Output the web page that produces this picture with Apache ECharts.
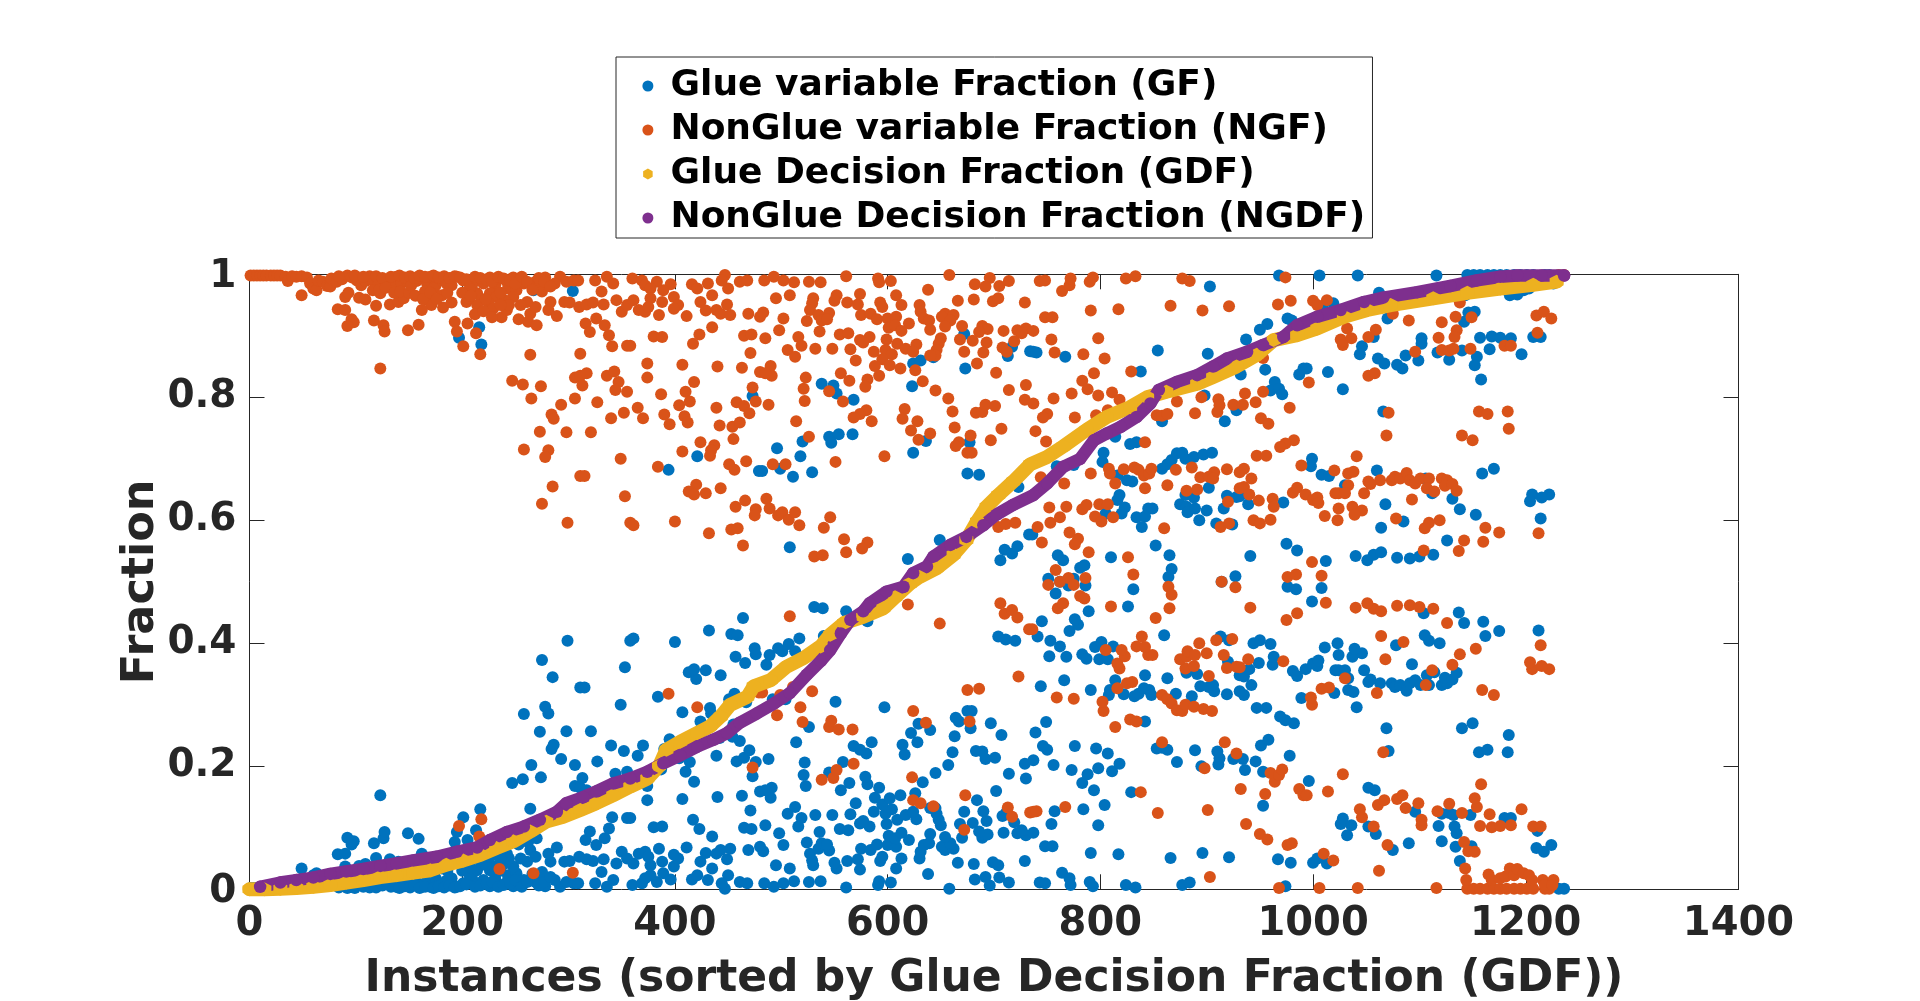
<!DOCTYPE html>
<html>
<head>
<meta charset="utf-8">
<title>Glue and NonGlue fractions per instance</title>
<script src="https://cdn.jsdelivr.net/npm/echarts@6/dist/echarts.min.js"></script>
<style>
html,body{margin:0;padding:0;background:#fff}
#chart{width:1920px;height:1001px}
</style>
</head>
<body>
<div id="chart"></div>
<script>
// Every row: [instance, glue variable fraction, nonglue variable fraction]
const instancesUpTo150 = [
[1,.002,.998],[4,.002,.998],[7,.002,.998],[10,.002,.998],[13,.002,.998],[16,.002,.998],[20,.002,.998],[23,.002,.998],[26,.002,.998],[29,.002,.998],
[34,.004,.996],[36,.011,.989],[40,.003,.997],[44,.004,.996],[49,.003,.997],[54,.005,.995],[57,.015,.985],[60,.023,.977],[63,.026,.974],[65,.01,.99],
[69,.012,.988],[73,.019,.981],[76,.02,.98],[77,.007,.993],[82,.012,.988],[87,.008,.992],[92,.002,.998],[96,.005,.995],[101,.01,.99],[105,.018,.982],
[109,.011,.989],[113,.003,.997],[116,.01,.99],[121,.018,.982],[129,.01,.99],[138,.004,.996],[135,.016,.984],[143,.014,.986],[148,.01,.99],
[49,.034,.966],[90,.037,.963],[93,.03,.97],[103,.038,.962],[109,.041,.959],[116,.026,.974],[123,.031,.969],[119,.051,.949],[132,.049,.951],[140,.045,.955],[145,.039,.961],
[83,.057,.943],[90,.058,.942],[96,.073,.927],[98,.078,.922],[92,.084,.916],[117,.075,.925],[126,.083,.917],[127,.093,.907],[149,.091,.909],[123,.153,.847],
[84,.003,.997],[99,.002,.998],[107,.004,.996],[119,.003,.997],[125,.006,.994],[133,.004,.996],[141,.002,.998],[146,.005,.995],
[122,.025,.975],[128,.022,.978],[136,.03,.97],[142,.028,.972],[150,.03,.97]
];
const instancesUpTo360 = [
[152,.018,.982],[157,.011,.989],[162,.007,.993],[167,.015,.985],[170,.004,.996],[175,.018,.982],[179,.01,.99],[185,.014,.986],[195,.004,.996],[190,.018,.982],
[201,.01,.99],[209,.019,.981],[214,.01,.99],[220,.015,.985],[226,.005,.995],[231,.018,.982],[236,.007,.993],[242,.012,.988],[248,.005,.995],[254,.007,.993],
[258,.015,.985],[243,.023,.977],[251,.026,.974],[248,.037,.963],[226,.031,.969],[232,.037,.963],[240,.042,.958],[214,.031,.969],[218,.041,.959],[225,.047,.953],
[207,.023,.977],[204,.045,.955],[214,.05,.95],[206,.039,.961],[165,.028,.972],[173,.023,.977],[167,.042,.958],[171,.05,.95],[181,.034,.966],[182,.054,.946],
[190,.046,.954],[162,.058,.942],[159,.082,.918],[193,.077,.923],[195,.093,.907],[205,.08,.92],[213,.096,.904],[201,.117,.883],[217,.13,.87],[229,.056,.944],
[237,.07,.93],[242,.058,.942],[253,.073,.927],[262,.077,.923],[264,.064,.936],[270,.083,.917],[269,.053,.947],[261,.045,.955],[283,.045,.955],[281,.058,.942],
[289,.068,.932],[275,.028,.972],[278,.005,.995],[269,.012,.988],[273,.018,.982],[292,.004,.996],[287,.015,.985],[298,.012,.988],[305,.01,.99],[309,.01,.99],
[296,.045,.955],[301,.046,.954],[310,.053,.947],[317,.049,.951],[323,.046,.954],[333,.049,.951],[325,.01,.99],[336,.004,.996],[342,.015,.985],[331,.028,.972],
[345,.042,.958],[350,.061,.939],[355,.05,.95],[316,.08,.92],[326,.072,.928],[320,.094,.906],[334,.083,.917],[338,.099,.901],[341,.117,.883],[355,.116,.884],
[264,.131,.869],[311,.129,.871],[247,.173,.827],[257,.179,.821],[274,.182,.818],[265,.202,.798],[306,.168,.832],[311,.165,.835],[317,.161,.839],[313,.181,.819],
[306,.202,.798],[336,.165,.835],[343,.158,.842],[347,.175,.825],[344,.188,.812],[355,.191,.809],[293,.212,.788],[327,.208,.792],[284,.228,.772],[286,.235,.765],
[352,.225,.775],[340,.234,.766],[273,.256,.744],[298,.257,.743],[321,.257,.743],[258,.285,.715],[281,.286,.714],[278,.297,.703],[349,.3,.7],[311,.328,.672],
[315,.328,.672],[285,.345,.655],[275,.373,.627],[353,.361,.639],[299,.404,.596],[358,.404,.596],
[267,.974,.026],[304,.973,.027],[216,.914,.086],[197,.897,.103],[218,.886,.114],[235,.967,.033],
[151,.003,.997],[155,.006,.994],[160,.002,.998],[165,.004,.996],[173,.002,.998],[178,.005,.995],[183,.003,.997],[188,.006,.994],[193,.003,.997],[198,.005,.995],
[204,.008,.992],[212,.004,.996],[217,.006,.994],[223,.009,.991],[228,.012,.988],[234,.004,.996],[239,.007,.993],[245,.01,.99],[250,.015,.985],[256,.004,.996],
[261,.012,.988],[266,.025,.975],[272,.006,.994],[277,.012,.988],[283,.02,.98],[156,.035,.965],[163,.04,.96],[170,.03,.97],[176,.04,.96],[186,.03,.97],
[200,.03,.97],[208,.035,.965],[222,.04,.96],[236,.03,.97],[244,.05,.95],[255,.05,.95],[212,.065,.935],[220,.06,.94],[228,.07,.93],[236,.05,.95]
];
const instancesUpTo560 = [
[360,.007,.993],[369,.01,.99],[372,.018,.982],[383,.012,.988],[396,.016,.984],[377,.023,.977],[389,.026,.974],[361,.042,.958],[377,.039,.961],[388,.045,.955],
[399,.037,.963],[403,.05,.95],[399,.056,.944],[366,.058,.942],[372,.061,.939],[375,.053,.947],[385,.066,.934],[411,.068,.932],[416,.016,.984],[421,.023,.977],
[431,.015,.985],[435,.034,.966],[424,.045,.955],[429,.059,.941],[439,.058,.942],[443,.064,.936],[449,.049,.951],[452,.066,.934],[450,.023,.977],[447,.001,.999],
[444,.01,.99],[461,.012,.988],[468,.01,.99],[484,.01,.99],[493,.004,.996],[502,.01,.99],[512,.013,.987],[526,.012,.988],[537,.013,.987],[495,.039,.961],
[508,.034,.966],[530,.039,.961],[529,.047,.953],[527,.058,.942],[552,.034,.966],[550,.043,.957],[469,.064,.936],[480,.069,.931],[483,.062,.938],[502,.072,.928],
[524,.076,.924],[535,.066,.934],[538,.075,.925],[545,.063,.937],[543,.073,.927],[435,.086,.914],[498,.091,.909],[536,.093,.907],[380,.101,.899],[388,.102,.898],
[423,.098,.902],[417,.113,.887],[465,.1,.9],[472,.098,.902],[485,.104,.896],[516,.102,.898],[519,.116,.884],[555,.098,.902],[358,.116,.884],[471,.128,.872],
[506,.123,.877],[513,.134,.866],[532,.121,.879],[548,.121,.879],[374,.145,.855],[407,.147,.853],[440,.15,.85],[463,.152,.848],[480,.159,.841],[490,.149,.851],
[491,.165,.835],[485,.161,.839],[374,.168,.832],[418,.175,.825],[523,.168,.832],[556,.161,.839],[473,.184,.816],[521,.186,.814],[545,.19,.81],[387,.195,.805],
[410,.191,.809],[414,.207,.793],[404,.213,.787],[365,.217,.783],[439,.217,.783],[458,.208,.792],[465,.214,.786],[470,.226,.774],[476,.207,.793],[488,.212,.788],
[522,.206,.794],[558,.207,.793],[370,.234,.766],[390,.228,.772],[395,.244,.756],[409,.231,.769],[412,.241,.759],[442,.246,.754],[454,.248,.752],[461,.241,.759],
[514,.239,.761],[455,.268,.732],[526,.264,.736],[424,.273,.727],[437,.278,.722],[434,.286,.714],[433,.295,.705],[407,.288,.712],[384,.313,.687],[451,.309,.691],
[456,.318,.682],[467,.304,.696],[492,.309,.691],[504,.309,.691],[551,.305,.695],[420,.342,.658],[413,.353,.647],[418,.358,.642],[429,.356,.644],[443,.348,.652],
[466,.368,.632],[457,.378,.622],[476,.382,.618],[475,.392,.608],[486,.365,.635],[489,.381,.619],[497,.392,.608],[501,.387,.613],[507,.399,.601],[513,.387,.613],
[517,.408,.592],[546,.395,.605],[540,.412,.588],[400,.402,.598],[361,.408,.592],[432,.421,.579],[453,.415,.585],[459,.413,.587],[559,.431,.569],[464,.441,.559],
[531,.459,.541],[539,.457,.543],
[538,.822,.178],[549,.819,.181],[552,.806,.194],[473,.802,.198],[394,.682,.318],[421,.704,.296],[496,.717,.283],[520,.728,.272],[545,.736,.264],[554,.74,.26],
[547,.726,.274],[518,.704,.296],[499,.684,.316],[479,.68,.32],[482,.68,.32],[511,.671,.329],[529,.678,.322],[508,.556,.444]
];
const instancesUpTo735 = [
[561,.003,.997],[591,.007,.993],[592,.013,.987],[603,.011,.989],[658,.001,.999],[696,.006,.994],[682,.016,.984],[692,.02,.98],[705,.019,.981],[714,.011,.989],
[638,.025,.975],[562,.046,.954],[572,.049,.951],[574,.032,.968],[593,.046,.954],[595,.053,.947],[608,.034,.966],[613,.05,.95],[630,.05,.95],[631,.061,.939],
[634,.072,.928],[639,.075,.925],[666,.043,.957],[681,.041,.959],[699,.044,.956],[704,.039,.961],[729,.046,.954],[575,.066,.934],[584,.064,.936],[590,.073,.927],
[600,.072,.928],[608,.069,.931],[620,.08,.92],[654,.064,.936],[651,.069,.931],[662,.066,.934],[659,.075,.925],[654,.085,.915],[670,.084,.916],[689,.084,.916],
[694,.089,.911],[640,.09,.91],[601,.087,.913],[607,.083,.917],[613,.092,.908],[686,.094,.906],[709,.092,.908],[722,.091,.909],[730,.088,.912],[726,.096,.904],
[563,.096,.904],[574,.107,.893],[583,.102,.898],[577,.111,.889],[599,.106,.894],[609,.113,.887],[617,.121,.879],[627,.114,.886],[624,.126,.874],[650,.104,.896],
[648,.113,.887],[646,.123,.877],[645,.132,.868],[640,.132,.868],[668,.106,.894],[680,.108,.892],[693,.111,.889],[708,.119,.881],[719,.109,.891],[565,.122,.878],
[587,.126,.874],[598,.123,.877],[604,.13,.87],[672,.126,.874],[690,.127,.873],[712,.126,.874],[570,.14,.86],[595,.138,.862],[588,.149,.851],[602,.148,.852],
[612,.153,.847],[626,.156,.844],[684,.145,.855],[702,.16,.84],[564,.173,.827],[581,.171,.829],[579,.183,.817],[592,.165,.835],[633,.174,.826],[714,.188,.812],
[730,.18,.82],[645,.189,.811],[657,.202,.798],[729,.204,.796],[580,.221,.779],[574,.227,.773],[568,.233,.767],[616,.219,.781],[614,.235,.765],[661,.223,.777],
[683,.225,.775],[689,.224,.776],[692,.212,.788],[701,.214,.786],[585,.239,.761],[628,.239,.761],[663,.249,.751],[707,.251,.749],[622,.254,.746],[640,.259,.741],
[629,.269,.731],[678,.262,.738],[697,.27,.73],[667,.273,.727],[664,.279,.721],[675,.29,.71],[679,.29,.71],[597,.296,.704],[581,.436,.564],[576,.446,.554],
[561,.452,.548],[704,.411,.589],[711,.406,.594],[720,.404,.596],
[568,.796,.204],[567,.74,.26],[624,.71,.29],[636,.729,.271],[677,.727,.273],[675,.676,.324],[686,.674,.326],[623,.818,.182],[673,.847,.153],[624,.855,.145],
[631,.86,.14],[643,.865,.135],[672,.903,.097],[717,.882,.118],[713,.867,.133],[734,.875,.125],[649,.568,.432],[619,.537,.463],[710,.552,.448],[717,.546,.454],
[722,.558,.442],[706,.535,.465],[733,.577,.423],[723,.654,.346]
];
const instancesUpTo870 = [
[743,.011,.989],[748,.01,.99],[764,.027,.973],[771,.018,.982],[772,.007,.993],[790,.012,.988],[793,.005,.995],[824,.007,.993],[833,.003,.997],[866,.051,.949],
[791,.059,.941],[817,.057,.943],[748,.07,.93],[755,.07,.93],[737,.092,.908],[754,.106,.894],[798,.104,.896],[757,.127,.873],[784,.13,.87],[804,.137,.863],
[829,.158,.842],[794,.161,.839],[783,.173,.827],[788,.187,.813],[773,.194,.806],[756,.202,.798],[737,.21,.79],[798,.197,.803],[811,.192,.808],[818,.204,.796],
[807,.221,.779],[796,.229,.771],[776,.233,.767],[750,.227,.773],[746,.233,.767],[739,.255,.745],[749,.272,.728],[853,.229,.771],[858,.23,.77],[863,.227,.773],
[842,.273,.727],[744,.33,.67],[766,.34,.66],[791,.324,.676],[808,.316,.684],[809,.324,.676],[814,.34,.66],[822,.317,.683],[832,.314,.686],[836,.318,.682],
[841,.327,.673],[846,.324,.676],[848,.316,.684],[842,.348,.652],[863,.343,.657],[752,.379,.621],[768,.378,.622],[783,.382,.618],[787,.375,.625],[799,.374,.626],
[807,.374,.626],[795,.394,.606],[801,.402,.598],[812,.395,.605],[741,.411,.589],[753,.404,.596],[762,.395,.605],[860,.413,.587],[771,.42,.58],[779,.43,.57],
[776,.439,.561],[745,.436,.564],[789,.452,.548],[826,.46,.54],
[758,.481,.519],[770,.494,.506],[775,.505,.495],[751,.505,.495],[786,.494,.506],[762,.5,.5],[781,.523,.477],[785,.527,.473],[831,.488,.512],[864,.508,.492],[867,.521,.479],
[737,.874,.126],[740,.873,.127],[767,.866,.134],[854,.876,.124],[838,.842,.158],[858,.761,.239],[828,.724,.276],[834,.727,.273],[803,.71,.29],[802,.695,.305],
[759,.688,.312],[775,.69,.31],[814,.736,.264],[816,.673,.327],[825,.665,.335],[830,.663,.337],[858,.684,.316],[863,.691,.309],[867,.698,.302],[818,.641,.359],
[816,.633,.367],[823,.621,.379],[820,.611,.389],[845,.619,.381],[849,.619,.381],[805,.611,.389],[834,.605,.395],[842,.606,.394],[839,.589,.411],[736,.577,.423],
[852,.559,.441],[760,.543,.457],[765,.535,.465],[810,.54,.46],[865,.543,.457]
];
const instancesUpTo1020 = [
[877,.007,.993],[884,.011,.989],[974,.005,.995],[896,.059,.941],[921,.052,.948],[967,.049,.951],[979,.043,.957],[1000,.043,.957],[1004,.05,.95],[1013,.042,.958],
[872,.207,.793],[895,.2,.8],[911,.203,.797],[912,.213,.787],[910,.224,.776],[889,.226,.774],[925,.212,.788],[934,.212,.788],[936,.194,.806],[946,.208,.792],
[953,.191,.809],[978,.217,.783],[951,.234,.766],[958,.243,.757],[996,.176,.824],[953,.136,.864],[982,.27,.73],[974,.275,.725],[969,.281,.719],[947,.295,.705],
[956,.295,.705],[989,.311,.689],[871,.318,.682],[886,.314,.686],[919,.317,.683],[935,.316,.684],[931,.322,.678],[907,.322,.678],[894,.33,.67],[902,.329,.671],
[906,.332,.668],[942,.332,.668],[881,.352,.648],[891,.35,.65],[931,.348,.652],[935,.346,.654],[940,.358,.642],[949,.368,.632],[962,.365,.635],[963,.378,.622],
[981,.355,.645],[985,.347,.653],[993,.358,.642],[1000,.367,.633],[1004,.363,.637],[1005,.372,.628],[920,.37,.63],[913,.411,.589],[921,.405,.595],[944,.4,.6],
[950,.405,.595],[960,.399,.601],[1011,.393,.607],[999,.468,.532],
[927,.509,.491],[914,.5,.5],[976,.492,.508],[984,.488,.512],[1008,.49,.51],
[903,.98,.02],[968,.998,.002],[1006,.998,.002],[901,.871,.129],[950,.91,.09],[957,.919,.081],[976,.928,.072],[980,.925,.075],[1010,.942,.058],[937,.894,.106],
[932,.837,.163],[955,.845,.155],[987,.837,.163],[991,.847,.153],[994,.847,.153],[1014,.841,.159],[964,.825,.175],[960,.811,.189],[968,.814,.186],[971,.805,.195],
[898,.803,.197],[928,.779,.221],[917,.761,.239],[872,.709,.291],[877,.71,.29],[880,.7,.3],[888,.703,.297],[897,.707,.293],[905,.71,.29],[999,.7,.3],
[998,.688,.312],[1008,.674,.326],[1015,.672,.328],[902,.653,.347],[880,.641,.359],[888,.637,.363],[875,.626,.374],[881,.622,.378],[882,.613,.387],[889,.619,.381],
[900,.616,.384],[916,.619,.381],[919,.64,.36],[928,.638,.362],[931,.639,.361],[939,.626,.374],[972,.629,.371],[893,.6,.4],[909,.595,.405],[924,.593,.407],
[975,.562,.438],[985,.551,.449],[941,.542,.458],[1012,.534,.466],[1019,.953,.047]
];
const instancesAfter1020 = [
[1138,.046,.954],[1134,.069,.931],[1121,.078,.922],[1149,.07,.93],[1090,.075,.925],[1075,.064,.936],[1032,.088,.912],[1026,.106,.894],[1036,.104,.896],[1028,.115,.885],
[1052,.102,.898],[1059,.09,.91],[1135,.091,.909],[1133,.102,.898],[1118,.103,.897],[1096,.126,.874],[1121,.123,.877],[1128,.124,.876],[1132,.121,.879],[1148,.121,.879],
[1180,.116,.884],[1186,.116,.884],[1210,.067,.933],[1217,.061,.939],[1224,.072,.928],[1211,.095,.905],[1052,.165,.835],[1058,.161,.839],[1071,.225,.775],[1156,.223,.777],
[1164,.227,.773],[1183,.223,.777],[1184,.251,.749],[1069,.262,.738],[1140,.262,.738],[1150,.27,.73],[1041,.296,.704],[1020,.319,.681],[1033,.324,.676],[1038,.321,.679],
[1052,.337,.663],[1063,.335,.665],[1054,.341,.659],[1074,.335,.665],[1077,.329,.671],[1082,.332,.668],[1088,.323,.677],[1091,.335,.665],[1096,.34,.66],[1101,.332,.668],
[1109,.332,.668],[1107,.348,.652],[1114,.353,.647],[1121,.332,.668],[1126,.335,.665],[1124,.344,.656],[1131,.341,.659],[1135,.352,.648],[1021,.356,.644],[1024,.356,.644],
[1033,.343,.657],[1030,.356,.644],[1048,.356,.644],[1093,.366,.634],[1024,.381,.619],[1037,.378,.622],[1046,.384,.616],[1039,.391,.609],[1023,.4,.6],[1078,.397,.603],
[1109,.404,.596],[1105,.413,.587],[1119,.4,.6],[1162,.412,.588],[1175,.42,.58],[1212,.421,.579],[1142,.433,.567],[1160,.435,.565],[1137,.45,.55],[1104,.449,.551],
[1042,.998,.002],[1116,.998,.002],[1062,.97,.03],[1070,.928,.072],[1057,.898,.102],[1142,.923,.077],[1146,.938,.062],[1152,.939,.061],[1157,.897,.103],[1168,.899,.101],
[1176,.897,.103],[1186,.896,.104],[1207,.898,.102],[1214,.898,.102],[1166,.878,.122],[1196,.87,.13],[1102,.896,.104],[1102,.887,.113],[1046,.883,.117],[1044,.87,.13],
[1061,.863,.137],[1067,.855,.145],[1079,.853,.147],[1084,.847,.153],[1087,.868,.132],[1099,.86,.14],[1117,.873,.127],[1128,.861,.139],[1140,.876,.124],[1154,.866,.134],
[1152,.852,.148],[1158,.829,.171],[1028,.813,.187],[1066,.777,.223],[1060,.681,.319],[1030,.657,.343],[1106,.668,.332],[1112,.644,.356],[1131,.635,.365],[1068,.626,.374],
[1138,.618,.382],[1153,.609,.391],[1159,.676,.324],[1170,.684,.316],[1206,.642,.358],[1222,.642,.358],[1215,.637,.363],[1204,.631,.369],[1214,.603,.397],[1064,.588,.412],
[1085,.598,.402],[1126,.567,.433],[1040,.542,.458],[1057,.544,.456],[1064,.548,.452],[1079,.539,.461],[1091,.538,.462],[1100,.541,.459],[1113,.544,.456],[1051,.535,.465],
[1145,.999,.001],[1151,.999,.001],[1157,.999,.001],[1164,.999,.001],[1170,.999,.001],[1176,.999,.001],[1182,.999,.001],[1189,.999,.001],[1195,.999,.001],[1201,.999,.001],
[1207,.999,.001],[1218,.999,.001],[1222,.999,.001],[1143,.966,.034],[1144,.985,.015],[1165,.976,.024],[1168,.985,.015],[1176,.982,.018],[1181,.979,.021],[1185,.966,.034],
[1189,.977,.023],[1192,.967,.033],[1198,.974,.026],[1203,.977,.023],[1206,.985,.015],[1216,.985,.015],[1218,.993,.007],[1226,.985,.015],[1225,.993,.007],
[1231,.001,.999],[1236,.001,.999]
];

// Decision fractions, as [instance, fraction], along the sorted instance order
const gluePoints = [
[0,0],[14,0],[29,.001],[44,.002],[60,.004],[76,.007],[91,.011],[107,.015],[123,.02],[138,.023],[154,.027],[170,.031],[185,.04],[201,.047],[217,.056],[232,.067],
[248,.078],[264,.094],[279,.11],[295,.118],[311,.129],[326,.14],[342,.153],[358,.167],[374,.18],[385,.2],[392,.227],[405,.24],[421,.254],[433,.265],[443,.281],
[452,.3],[468,.313],[474,.33],[490,.34],[505,.362],[521,.376],[537,.395],[546,.414],[559,.433],[577,.443],[596,.457],[607,.475],[621,.497],[630,.508],[646,.522],
[662,.544],[674,.568],[684,.598],[693,.622],[704,.641],[718,.663],[734,.691],[750,.703],[765,.72],[787,.747],[806,.768],[828,.784],[844,.8],[862,.809],[891,.822],
[906,.833],[928,.85],[947,.869],[963,.893],[985,.901],[1004,.912],[1029,.931],[1051,.942],[1073,.95],[1113,.961],[1145,.97],[1176,.977],[1207,.983],[1229,.988]
];
const nonGluePoints = [
[10,.004],[29,.011],[44,.015],[60,.019],[76,.025],[91,.029],[107,.033],[123,.038],[138,.042],[154,.047],[176,.053],[195,.061],[214,.068],[226,.08],[242,.093],
[258,.102],[273,.113],[289,.126],[298,.14],[314,.15],[326,.159],[342,.172],[358,.18],[374,.191],[389,.205],[405,.218],[421,.232],[436,.243],[449,.254],[461,.271],
[477,.286],[493,.302],[508,.319],[524,.349],[537,.371],[546,.389],[556,.416],[565,.438],[577,.452],[583,.465],[599,.484],[615,.492],[624,.514],[637,.525],[643,.541],
[659,.56],[674,.573],[690,.592],[702,.609],[718,.625],[737,.641],[750,.66],[765,.687],[781,.70],[794,.73],[806,.741],[819,.752],[834,.768],[847,.79],[855,.812],
[872,.825],[891,.836],[906,.85],[919,.863],[938,.874],[953,.885],[972,.898],[985,.917],[1004,.931],[1026,.942],[1048,.955],[1066,.962],[1098,.971],[1129,.981],
[1154,.99],[1176,.996],[1192,.998],[1215,.998],[1236,.998]
];

const xTicks = {min: 0, max: 1400, interval: 200};
const yTicks = {min: 0, max: 1, interval: 0.2};
const seriesNames = [
  'Glue variable Fraction (GF)',
  'NonGlue variable Fraction (NGF)',
  'Glue Decision Fraction (GDF)',
  'NonGlue Decision Fraction (NGDF)'
];
const seriesColors = ['#0072BD', '#D95319', '#EDB120', '#7E2F8E'];

const allInstances = [].concat(instancesUpTo150, instancesUpTo360, instancesUpTo560,
  instancesUpTo735, instancesUpTo870, instancesUpTo1020, instancesAfter1020);

const HEXAGON = 'path://M5 0L9.33 2.5L9.33 7.5L5 10L0.67 7.5L0.67 2.5Z';
const FONT = '"DejaVu Sans"';
const INK = '#262626';

const chart = echarts.init(document.getElementById('chart'), null, {renderer: 'canvas'});

function frameAxis(extra) {
  return Object.assign({
    type: 'value',
    splitLine: {show: false},
    axisLine: {show: true, onZero: false, lineStyle: {color: INK, width: 1}},
    axisTick: {show: true, inside: true, length: 15, lineStyle: {color: INK, width: 1}}
  }, extra);
}

chart.setOption({
  animation: false,
  backgroundColor: '#fff',
  grid: {left: 249.5, right: 181.5, top: 274.3, bottom: 111.7, containLabel: false, outerBoundsMode: 'none'},
  legend: {
    left: 616,
    top: 57,
    orient: 'vertical',
    selectedMode: false,
    backgroundColor: '#fff',
    borderColor: INK,
    borderWidth: 1,
    padding: [9, 7.2, 0, 26.4],
    itemGap: 4,
    itemWidth: 35.2,
    itemHeight: 11,
    textStyle: {fontFamily: FONT, fontWeight: 'bold', fontSize: 36, color: '#000', lineHeight: 40},
    data: [
      {name: seriesNames[0], icon: 'circle'},
      {name: seriesNames[1], icon: 'circle'},
      {name: seriesNames[2], icon: HEXAGON},
      {name: seriesNames[3], icon: 'circle'}
    ]
  },
  xAxis: [
    frameAxis(Object.assign({}, xTicks, {
      position: 'bottom',
      name: 'Instances (sorted by Glue Decision Fraction (GDF))',
      nameLocation: 'middle',
      nameGap: 68,
      nameTextStyle: {fontFamily: FONT, fontWeight: 'bold', fontSize: 44, color: INK},
      axisLabel: {fontFamily: FONT, fontWeight: 'bold', fontSize: 40, color: INK, margin: 15, formatter: v => String(v),
        alignMinLabel: 'center', alignMaxLabel: 'center'}
    })),
    frameAxis(Object.assign({}, xTicks, {position: 'top', axisLabel: {show: false}}))
  ],
  yAxis: [
    frameAxis(Object.assign({}, yTicks, {
      position: 'left',
      name: 'Fraction',
      nameLocation: 'middle',
      nameGap: 86,
      nameMoveOverlap: false,
      nameTextStyle: {fontFamily: FONT, fontWeight: 'bold', fontSize: 44.5, color: INK},
      axisLabel: {fontFamily: FONT, fontWeight: 'bold', fontSize: 39, color: INK, margin: 13,
        formatter: v => (v === 0 || v === 1) ? '{end|' + v + '}' : String(v),
        rich: {end: {fontFamily: FONT, fontWeight: 'bold', fontSize: 39, color: INK, padding: [5, 0, 0, 0]}},
        verticalAlign: 'middle', verticalAlignMinLabel: 'middle', verticalAlignMaxLabel: 'middle'}
    })),
    frameAxis(Object.assign({}, yTicks, {position: 'right', axisLabel: {show: false}}))
  ],
  series: [
    {
      name: seriesNames[0], type: 'scatter', clip: false, symbol: 'circle', symbolSize: 12,
      itemStyle: {color: seriesColors[0], opacity: 1},
      data: allInstances.map(r => [r[0], r[1]])
    },
    {
      name: seriesNames[1], type: 'scatter', clip: false, symbol: 'circle', symbolSize: 12,
      itemStyle: {color: seriesColors[1], opacity: 1},
      data: allInstances.map(r => [r[0], r[2]])
    },
    {
      name: seriesNames[2], type: 'line', clip: false, symbol: HEXAGON, symbolSize: 14,
      showSymbol: true, showAllSymbol: true,
      itemStyle: {color: seriesColors[2]},
      lineStyle: {color: seriesColors[2], width: 14, join: 'round', cap: 'round'},
      data: gluePoints
    },
    {
      name: seriesNames[3], type: 'line', clip: false, symbol: 'circle', symbolSize: 12.5,
      showSymbol: true, showAllSymbol: true,
      itemStyle: {color: seriesColors[3]},
      lineStyle: {color: seriesColors[3], width: 12.5, join: 'round', cap: 'round'},
      data: nonGluePoints
    }
  ]
});
</script>
</body>
</html>
